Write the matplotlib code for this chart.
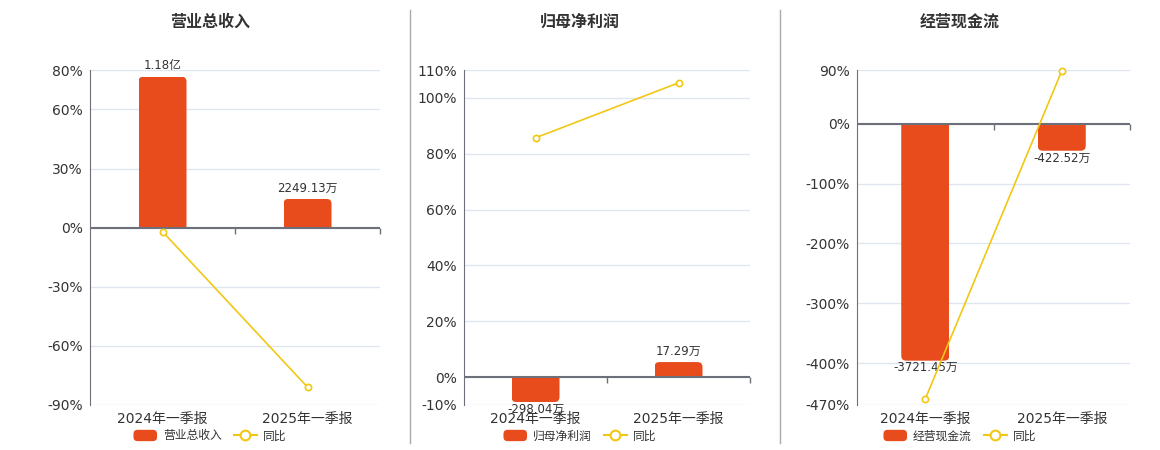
import numpy as np
import matplotlib
matplotlib.use('Agg')
import matplotlib.pyplot as plt
from matplotlib.patches import FancyBboxPatch, Rectangle, Patch
from matplotlib.lines import Line2D
from matplotlib.legend_handler import HandlerPatch

plt.rcParams['font.family'] = ['DejaVu Sans', 'Noto Sans CJK SC']

# ---- data (bar values in 万元, yoy in %) ----
categories = ['2024年一季报', '2025年一季报']

revenue = [11800.0, 2249.13]
revenue_labels = ['1.18亿', '2249.13万']
revenue_yoy = [-2.0, -80.94]
revenue_ticks = [-90, -60, -30, 0, 30, 60, 80]

profit = [-298.04, 17.29]
profit_labels = ['-298.04万', '17.29万']
profit_yoy = [85.7, 105.4]
profit_ticks = [-10, 0, 20, 40, 60, 80, 100, 110]

cash = [-3721.45, -422.52]
cash_labels = ['-3721.45万', '-422.52万']
cash_yoy = [-460.0, 88.4]
cash_ticks = [-470, -400, -300, -200, -100, 0, 90]

BAR = '#E84B1C'
LINE = '#F2C714'
TEXT = '#333333'
GRID = '#E0E6F1'
AXIS = '#6E7079'

W, H = 1160, 450
fig = plt.figure(figsize=(W / 100, H / 100), dpi=100)


def rounded_patch(legend, orig_handle, xdescent, ydescent, width, height, fontsize):
    return FancyBboxPatch((-xdescent, -ydescent), width, height,
                          boxstyle='round,pad=0,rounding_size=3')


def draw_panel(box, title, center_x, name, values, labels, yoy, ticks, scale):
    """box in pixels: left, right, top, bottom; scale = bar units per percent"""
    left, right, top, bottom = box
    rect = [left / W, 1 - bottom / H, (right - left) / W, (bottom - top) / H]
    ax = fig.add_axes(rect)
    lx = ax.twinx()

    lo, hi = ticks[0], ticks[-1]
    ax.set_xlim(-0.5, 1.5)
    ax.set_ylim(lo * scale, hi * scale)
    lx.set_ylim(lo, hi)

    ax.set_yticks([t * scale for t in ticks])
    ax.tick_params(axis='y', left=False, labelleft=False, right=False, labelright=False)
    ax.grid(axis='y', color=GRID, lw=1)
    ax.set_axisbelow(True)
    for s in ['top', 'right', 'bottom']:
        ax.spines[s].set_visible(False)
    ax.spines['left'].set_color(AXIS)
    ax.spines['left'].set_linewidth(0.8)
    for s in lx.spines.values():
        s.set_visible(False)

    ax.set_xticks(range(len(categories)), categories)
    ax.tick_params(axis='x', length=0, pad=5, labelsize=10, colors=TEXT)

    # rounded bars
    xpx = (right - left) / 2.0
    ypx = (bottom - top) / ((hi - lo) * scale)
    ma = xpx / ypx
    r = 5 / xpx
    bw = 48 / xpx
    min_h = 15 / ypx
    for i, v in enumerate(values):
        h = v if abs(v) >= min_h else np.sign(v) * min_h
        ext = r * ma
        if h > 0:
            y0, hh = -ext, h + ext
        else:
            y0, hh = h, -h + ext
        p = FancyBboxPatch((i - bw / 2, y0), bw, hh,
                           boxstyle=f'round,pad=0,rounding_size={r}',
                           mutation_aspect=ma, fc=BAR, ec='none', zorder=2)
        ax.add_patch(p)
        clip = Rectangle((i - bw / 2, min(0, h)), bw, abs(h), transform=ax.transData)
        p.set_clip_path(clip)
        if h > 0:
            ax.annotate(labels[i], (i, h), xytext=(0, 3), textcoords='offset points',
                        ha='center', va='bottom', fontsize=8.5, color=TEXT, zorder=4)
        else:
            ax.annotate(labels[i], (i, h), xytext=(0, -0.5), textcoords='offset points',
                        ha='center', va='top', fontsize=8.5, color=TEXT, zorder=4)

    ax.axhline(0, color=AXIS, lw=1.5, zorder=3)
    ax.plot([0.5, 1.5], [0, 0], ls='none', marker=3, ms=4, mew=1, color=AXIS,
            clip_on=False, zorder=3)

    # yoy line
    lx.plot(range(len(categories)), yoy, color=LINE, lw=1.2, marker='o', ms=4.5,
            mfc='white', mec=LINE, mew=1.2, clip_on=False, zorder=5)
    lx.yaxis.tick_left()
    lx.yaxis.set_label_position('left')
    lx.set_yticks(ticks, [f'{t}%' for t in ticks])
    lx.tick_params(axis='y', length=0, pad=5, labelsize=10, colors=TEXT)

    fig.text(center_x / W, 1 - 22 / H, title, ha='center', va='center',
             fontsize=11.5, fontweight='bold', color=TEXT)

    handles = [Patch(fc=BAR, ec='none', label=name),
               Line2D([], [], color=LINE, lw=1.5, marker='o', ms=7, mfc='white',
                      mec=LINE, mew=1.5, label='同比')]
    fig.legend(handles=handles, loc='center', bbox_to_anchor=(center_x / W, 1 - 436 / H),
               ncol=2, frameon=False, fontsize=8.5, handlelength=2.0, handleheight=1.1,
               handletextpad=0.5, columnspacing=1.0, labelcolor=TEXT,
               handler_map={Patch: HandlerPatch(patch_func=rounded_patch)})


draw_panel((90, 380, 70, 405), '营业总收入', 210, '营业总收入',
           revenue, revenue_labels, revenue_yoy, revenue_ticks, 154.0)
draw_panel((464, 750, 70, 405), '归母净利润', 580, '归母净利润',
           profit, profit_labels, profit_yoy, profit_ticks, 33.3)
draw_panel((857, 1130, 70, 405), '经营现金流', 960, '经营现金流',
           cash, cash_labels, cash_yoy, cash_ticks, 9.40)

for x in [410, 780]:
    fig.add_artist(Line2D([x / W, x / W], [1 - 10 / H, 1 - 443 / H],
                          transform=fig.transFigure, color='#AAAAAA', lw=1))

fig.savefig('out.png', dpi=100)
